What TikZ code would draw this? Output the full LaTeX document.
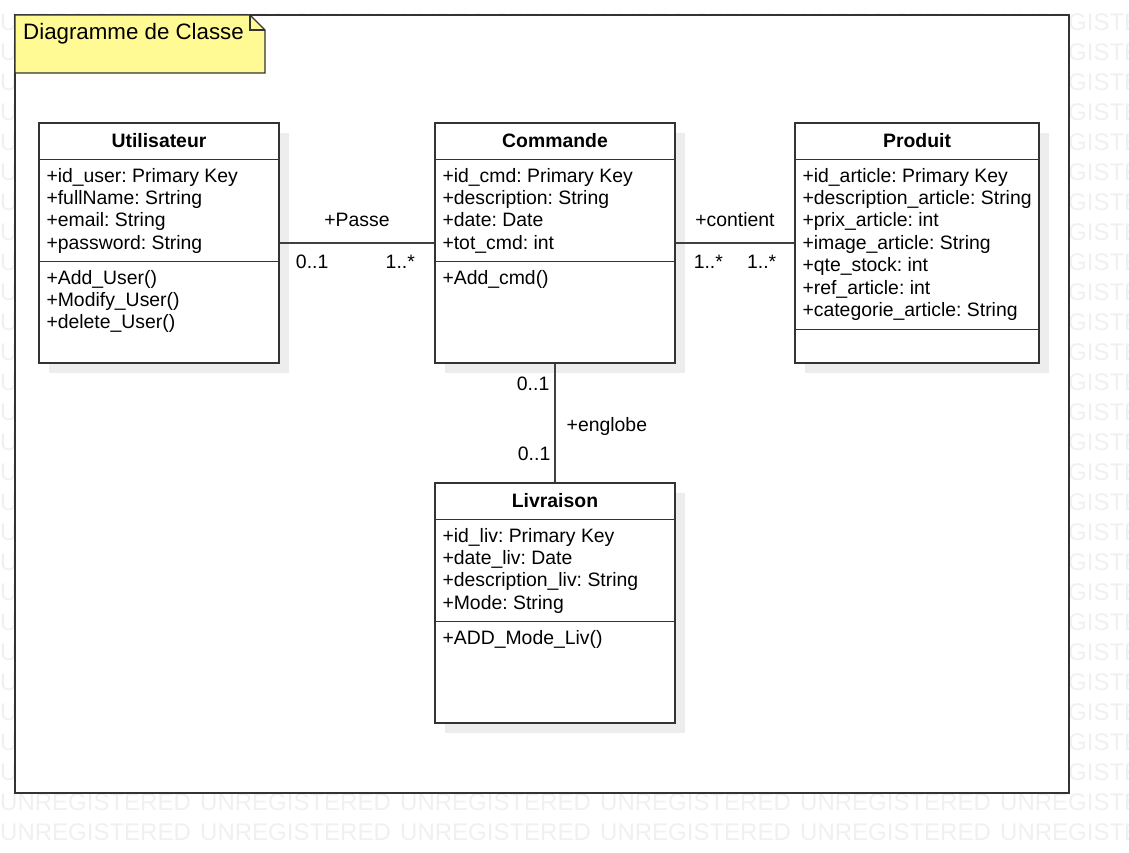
\documentclass[tikz,border=0pt]{standalone}
\usepackage{fontspec}
\setmainfont{Liberation Sans}
\usetikzlibrary{shadows}
\definecolor{notefill}{HTML}{FFFA94}
\frenchspacing

\begin{document}
\begin{tikzpicture}[x=1pt, y=-1pt]
\tikzset{every node/.style={font=\fontsize{19.4}{22.4}\selectfont}}
\tikzset{classbox/.style={draw=black!80, fill=white, line width=1.4pt,
                          minimum width=240pt, minimum height=240pt, inner sep=0pt,
                          drop shadow={shadow xshift=10pt, shadow yshift=-10pt,
                                       fill=black!7, opacity=1}}}
\tikzset{classname/.style={font=\fontsize{19.4}{22.4}\selectfont\bfseries, inner sep=0pt}}
\tikzset{members/.style={anchor=north west, align=left, inner sep=0pt}}
\tikzset{divider/.style={draw=black!80, line width=1.4pt}}
\tikzset{assoc/.style={draw=black!75, line width=1.4pt}}
\tikzset{edgelabel/.style={inner sep=0pt}}
\tikzset{watermark/.style={anchor=base west, inner sep=0pt, text=black!6,
                           font=\fontsize{24}{24}\selectfont}}
\useasboundingbox (0,0) rectangle (1129,853);
% watermark
\begin{scope}
\clip (0,0) rectangle (1129,853);
\foreach \r in {0,...,27}
    \foreach \c in {0,...,5}
        \node[watermark] (wm-\r-\c) at (200*\c, 30.5+30*\r) {UNREGISTERED};
\end{scope}
% frame and note
\draw[draw=black!80, fill=white, line width=1.4pt] (15,15) rectangle (1069,793);
\draw[draw=black!80, fill=notefill, line width=1.4pt]
    (15,15) -- (250,15) -- (265,30) -- (265,73) -- (15,73) -- cycle;
\draw[black!80, line width=1.4pt] (250,15) -- (250,30) -- (265,30);
\node[anchor=base west, inner sep=0pt, font=\fontsize{22.3}{24}\selectfont] (note)
    at (23,39.5) {Diagramme de Classe};
% Utilisateur
\node[classbox] (util) at (159,243) {};
\node[classname] (util-name) at ([yshift=-18.5pt]util.north) {Utilisateur};
\draw[divider] ([yshift=-37pt]util.north west) -- ([yshift=-37pt]util.north east);
\node[members] (util-attr) at ([xshift=8pt, yshift=-45.5pt]util.north west)
    {+id\_user: Primary Key\\+fullName: Srtring\\+email: String\\+password: String};
\draw[divider] ([yshift=-139pt]util.north west) -- ([yshift=-139pt]util.north east);
\node[members] (util-op) at ([xshift=8pt, yshift=-147.5pt]util.north west)
    {+Add\_User()\\+Modify\_User()\\+delete\_User()};
% Commande
\node[classbox] (cmd) at (555,243) {};
\node[classname] (cmd-name) at ([yshift=-18.5pt]cmd.north) {Commande};
\draw[divider] ([yshift=-37pt]cmd.north west) -- ([yshift=-37pt]cmd.north east);
\node[members] (cmd-attr) at ([xshift=8pt, yshift=-45.5pt]cmd.north west)
    {+id\_cmd: Primary Key\\+description: String\\+date: Date\\+tot\_cmd: int};
\draw[divider] ([yshift=-139pt]cmd.north west) -- ([yshift=-139pt]cmd.north east);
\node[members] (cmd-op) at ([xshift=8pt, yshift=-147.5pt]cmd.north west)
    {+Add\_cmd()};
% Produit
\node[classbox, minimum width=244pt] (prod) at (917,243) {};
\node[classname] (prod-name) at ([yshift=-18.5pt]prod.north) {Produit};
\draw[divider] ([yshift=-37pt]prod.north west) -- ([yshift=-37pt]prod.north east);
\node[members] (prod-attr) at ([xshift=8pt, yshift=-45.5pt]prod.north west)
    {+id\_article: Primary Key\\+description\_article: String\\+prix\_article: int\\
     +image\_article: String\\+qte\_stock: int\\+ref\_article: int\\
     +categorie\_article: String};
\draw[divider] ([yshift=-207pt]prod.north west) -- ([yshift=-207pt]prod.north east);
% Livraison
\node[classbox] (liv) at (555,603) {};
\node[classname] (liv-name) at ([yshift=-18.5pt]liv.north) {Livraison};
\draw[divider] ([yshift=-37pt]liv.north west) -- ([yshift=-37pt]liv.north east);
\node[members] (liv-attr) at ([xshift=8pt, yshift=-45.5pt]liv.north west)
    {+id\_liv: Primary Key\\+date\_liv: Date\\+description\_liv: String\\+Mode: String};
\draw[divider] ([yshift=-139pt]liv.north west) -- ([yshift=-139pt]liv.north east);
\node[members] (liv-op) at ([xshift=8pt, yshift=-147.5pt]liv.north west)
    {+ADD\_Mode\_Liv()};
% associations
\draw[assoc] (util) -- (cmd)
    node[edgelabel, pos=0.5, anchor=base, yshift=17pt] (passe) {+Passe}
    node[edgelabel, pos=0.21, anchor=base, yshift=-25pt] (passe-util) {0..1}
    node[edgelabel, pos=0.78, anchor=base, yshift=-25pt] (passe-cmd) {1..*};
\draw[assoc] (cmd) -- (prod)
    node[edgelabel, pos=0.5, anchor=base, yshift=17pt] (contient) {+contient}
    node[edgelabel, pos=0.275, anchor=base, yshift=-25pt] (contient-cmd) {1..*}
    node[edgelabel, pos=0.725, anchor=base, yshift=-25pt] (contient-prod) {1..*};
\draw[assoc] (cmd) -- (liv)
    node[edgelabel, pos=0.223, anchor=base east, xshift=-5pt] (englobe-cmd) {0..1}
    node[edgelabel, pos=0.57, anchor=base west, xshift=11pt] (englobe) {+englobe}
    node[edgelabel, pos=0.818, anchor=base east, xshift=-4pt] (englobe-liv) {0..1};
\end{tikzpicture}
\end{document}
